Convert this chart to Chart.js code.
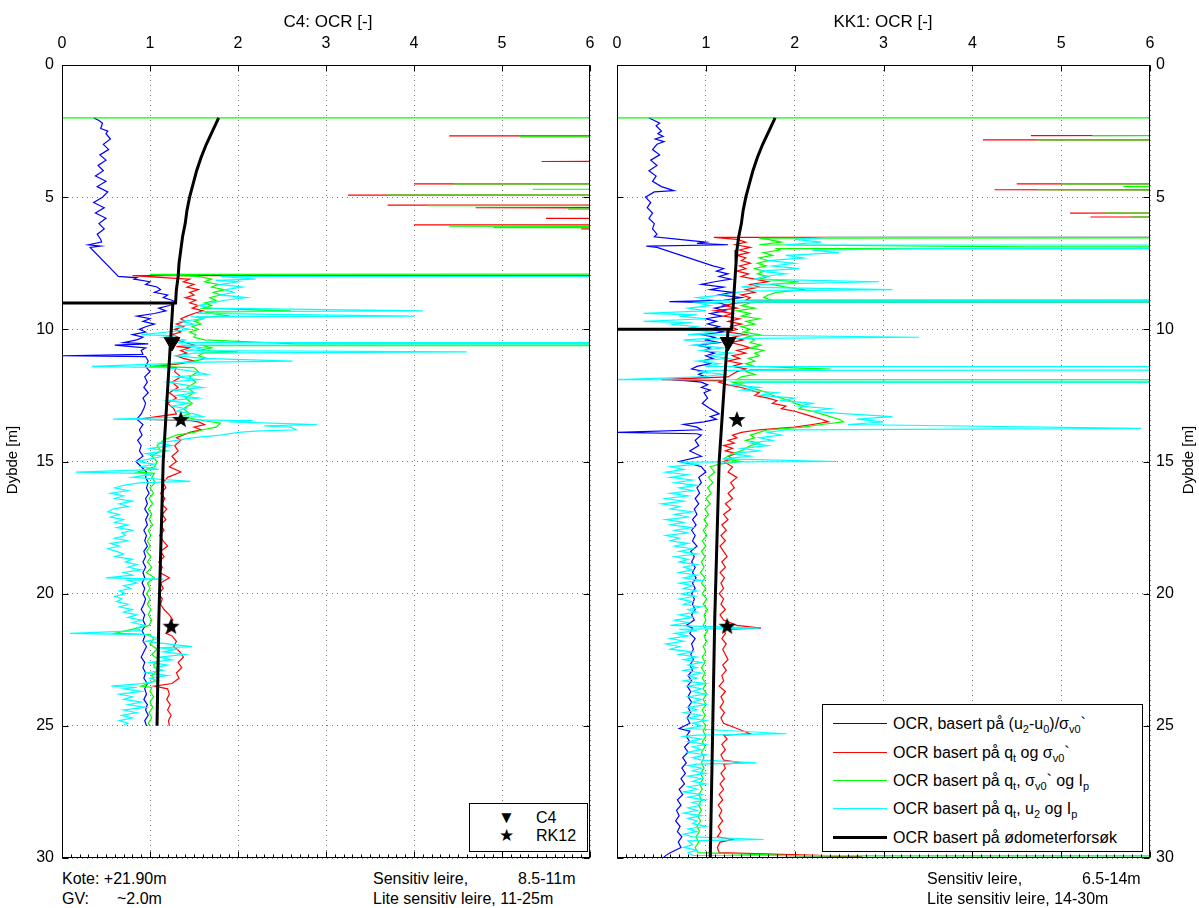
<!DOCTYPE html>
<html><head><meta charset="utf-8">
<script src="https://cdn.jsdelivr.net/npm/chart.js@4.4.0/dist/chart.umd.min.js"></script>
<style>
body{margin:0;background:#fff;width:1199px;height:908px;position:relative;overflow:hidden;font-family:"Liberation Sans",Arial,sans-serif;color:#000}
canvas{position:absolute;top:0}
.t{position:absolute;white-space:pre;font-size:16px;line-height:18px}
.title{position:absolute;font-size:17px;line-height:20px;width:240px;text-align:center;top:12px}
.ylab{position:absolute;font-size:15px;line-height:18px;width:100px;text-align:center;transform:rotate(-90deg)}
.leg{position:absolute;border:1px solid #000;background:#fff;font-size:16px}
.row{position:absolute;left:0;height:20px;line-height:20px;white-space:nowrap}
.sw{position:absolute;left:10px;width:54px;top:9px;height:0;border-top:1px solid}
.lt{position:absolute;left:70px;top:0}
sub{font-size:11px;vertical-align:-4px;line-height:0}
</style></head><body>
<canvas id="c1" width="600" height="870" style="left:0"></canvas>
<canvas id="c2" width="639" height="870" style="left:560px"></canvas>
<div class="title" style="left:208px">C4: OCR [-]</div>
<div class="title" style="left:763px">KK1: OCR [-]</div>
<div class="ylab" style="left:-38px;top:451px">Dybde [m]</div>
<div class="ylab" style="left:1138px;top:451px">Dybde [m]</div>
<div class="t" style="left:62px;top:870px">Kote: +21.90m</div>
<div class="t" style="left:62px;top:890px">GV:</div>
<div class="t" style="left:117px;top:890px">~2.0m</div>
<div class="t" style="left:373px;top:870px">Sensitiv leire,</div>
<div class="t" style="left:518px;top:870px">8.5-11m</div>
<div class="t" style="left:373px;top:890px">Lite sensitiv leire, 11-25m</div>
<div class="t" style="left:927px;top:870px">Sensitiv leire,</div>
<div class="t" style="left:1082px;top:870px">6.5-14m</div>
<div class="t" style="left:927px;top:890px">Lite sensitiv leire, 14-30m</div>
<div class="leg" style="left:469px;top:803px;width:117px;height:47px">
 <div class="row" style="top:4px;left:28px;font-size:17px">▼</div><div class="row" style="top:4px;left:66px">C4</div>
 <div class="row" style="top:22px;left:29px;font-size:17px">★</div><div class="row" style="top:22px;left:66px">RK12</div>
</div>
<div class="leg" style="left:822px;top:704px;width:319px;height:146px">
 <div class="row" style="top:9px;width:319px"><div class="sw" style="border-color:#0000ff"></div><div class="lt">OCR, basert på (u<sub>2</sub>-u<sub>0</sub>)/σ<sub>v0</sub>`</div></div>
 <div class="row" style="top:38px;width:319px"><div class="sw" style="border-color:#ff0000"></div><div class="lt">OCR basert på q<sub>t</sub> og σ<sub>v0</sub>`</div></div>
 <div class="row" style="top:66px;width:319px"><div class="sw" style="border-color:#00ff00"></div><div class="lt">OCR basert på q<sub>t</sub>, σ<sub>v0</sub>` og I<sub>p</sub></div></div>
 <div class="row" style="top:94px;width:319px"><div class="sw" style="border-color:#00ffff"></div><div class="lt">OCR basert på q<sub>t</sub>, u<sub>2</sub> og I<sub>p</sub></div></div>
 <div class="row" style="top:123px;width:319px"><div class="sw" style="border-color:#000;border-top-width:3px;top:8px"></div><div class="lt">OCR basert på ødometerforsøk</div></div>
</div>
<script>
// ---------- DATA: [depth (m), OCR (-)] ----------
const xTicks = [0,1,2,3,4,5,6];
const yTicks = [0,5,10,15,20,25,30];

const c4Blue = [[2.0,0.36],[2.1,0.42],[2.2,0.46],[2.4,0.44],[2.5,0.52],[2.6,0.5],[2.8,0.55],[3.0,0.47],[3.2,0.53],[3.4,0.43],[3.6,0.5],[3.8,0.41],[4.0,0.47],[4.2,0.38],[4.4,0.5],[4.6,0.4],[4.8,0.52],[5.0,0.46],[5.2,0.36],[5.4,0.48],[5.6,0.38],[5.8,0.5],[6.0,0.42],[6.2,0.48],[6.4,0.4],[6.6,0.44],[6.7,0.45],[6.8,0.3],[6.85,0.44],[6.9,0.32],[8.0,0.64],[8.05,0.85],[8.1,0.82],[8.2,1.0],[8.3,0.95],[8.4,1.08],[8.5,1.12],[8.6,1.05],[8.7,1.2],[8.8,1.15],[8.9,1.25],[9.0,1.3],[9.1,1.22],[9.2,1.1],[9.3,1.18],[9.4,1.05],[9.5,0.85],[9.6,1.0],[9.7,0.92],[9.8,1.05],[9.9,0.95],[10.0,0.88],[10.1,0.95],[10.2,0.8],[10.3,0.92],[10.4,0.85],[10.5,0.7],[10.55,0.98],[10.6,0.6],[10.7,0.95],[10.8,0.9],[10.95,0.92],[11.0,0.0],[11.03,0.95],[11.2,0.98],[11.4,0.95],[11.6,1.0],[11.8,0.94],[12.0,0.97],[12.2,0.93],[12.4,0.98],[12.6,0.92],[12.8,0.95],[13.0,0.93],[13.2,0.9],[13.4,0.85],[13.6,0.92],[13.8,0.88],[14.0,0.91],[14.2,0.86],[14.4,0.9],[14.6,0.88],[14.8,0.92],[15.0,0.84],[15.2,0.9],[15.4,0.96],[15.6,0.95],[15.8,0.98],[16.0,0.96],[16.2,0.99],[16.4,0.95],[16.6,0.97],[16.8,0.94],[17.0,0.98],[17.2,0.95],[17.4,0.97],[17.6,0.93],[17.8,0.96],[18.0,0.94],[18.2,0.97],[18.4,0.93],[18.6,0.95],[18.8,0.92],[19.0,0.95],[19.2,0.92],[19.4,0.94],[19.6,0.91],[19.8,0.94],[20.0,0.92],[20.2,0.95],[20.4,0.93],[20.6,0.9],[20.8,0.94],[21.0,0.92],[21.2,0.95],[21.4,0.91],[21.6,0.94],[21.8,0.92],[22.0,0.96],[22.2,0.93],[22.4,0.9],[22.6,0.94],[22.8,0.92],[23.0,0.95],[23.2,0.93],[23.4,0.97],[23.6,0.94],[23.8,0.96],[24.0,0.93],[24.2,0.97],[24.4,0.95],[24.6,0.98],[24.8,0.94],[25.0,0.96]];

const c4Red = [[2.0,40],[2.6,40],[2.68,4.4],[2.72,40],[3.6,40],[3.65,5.45],[3.7,40],[4.45,40],[4.5,4.0],[4.55,40],[4.85,40],[4.92,3.25],[4.97,40],[5.25,40],[5.3,3.7],[5.35,40],[5.4,4.7],[5.45,40],[5.75,40],[5.8,5.5],[5.85,40],[6.0,40],[6.05,4.0],[6.1,40],[6.18,40],[6.2,5.9],[6.25,40],[7.9,40],[7.97,0.8],[8.05,1.2],[8.1,1.45],[8.2,1.38],[8.3,1.5],[8.4,1.42],[8.5,1.55],[8.6,1.45],[8.7,1.5],[8.8,1.4],[8.9,1.52],[9.0,1.45],[9.1,1.55],[9.2,1.48],[9.3,1.6],[9.4,1.5],[9.5,1.42],[9.6,1.35],[9.7,1.4],[9.8,1.3],[9.9,1.38],[10.0,1.28],[10.1,1.35],[10.2,1.25],[10.3,1.32],[10.4,1.3],[10.5,1.4],[10.6,1.5],[10.65,1.3],[10.7,1.45],[10.8,1.35],[10.9,1.42],[11.0,1.3],[11.1,1.38],[11.2,1.5],[11.3,1.35],[11.4,1.05],[11.45,1.3],[11.6,1.28],[11.8,1.35],[12.0,1.25],[12.2,1.32],[12.4,1.22],[12.6,1.3],[12.8,1.2],[13.0,1.27],[13.2,1.3],[13.4,0.88],[13.45,1.45],[13.5,1.55],[13.6,1.62],[13.7,1.5],[13.8,1.58],[13.9,1.45],[14.0,1.38],[14.1,1.3],[14.2,1.35],[14.4,1.28],[14.6,1.32],[14.8,1.25],[15.0,1.3],[15.2,1.22],[15.4,1.35],[15.6,1.2],[15.8,1.15],[16.0,1.18],[16.2,1.12],[16.4,1.17],[16.6,1.13],[16.8,1.19],[17.0,1.14],[17.2,1.18],[17.4,1.12],[17.6,1.16],[17.8,1.11],[18.0,1.15],[18.2,1.2],[18.4,1.12],[18.6,1.16],[18.8,1.1],[19.0,1.14],[19.2,1.11],[19.4,1.22],[19.6,1.12],[19.8,1.15],[20.0,1.1],[20.2,1.14],[20.4,1.12],[20.6,1.16],[20.8,1.22],[21.0,1.26],[21.2,1.2],[21.4,1.24],[21.5,1.18],[21.6,1.25],[21.8,1.3],[22.0,1.27],[22.2,1.34],[22.4,1.38],[22.6,1.32],[22.8,1.36],[23.0,1.3],[23.2,1.33],[23.4,1.25],[23.5,1.05],[23.6,1.2],[23.8,1.22],[24.0,1.19],[24.2,1.23],[24.4,1.2],[24.6,1.24],[24.8,1.21],[25.0,1.22]];

const c4Green = [[2.0,0],[2.0,40],[2.7,40],[2.72,5.2],[2.76,40],[4.45,40],[4.5,4.45],[4.55,40],[4.7,5.35],[4.75,40],[4.88,40],[4.92,3.7],[4.97,40],[5.28,40],[5.32,4.15],[5.37,40],[5.45,5.75],[5.5,40],[6.05,40],[6.1,4.4],[6.13,40],[6.15,4.9],[6.2,40],[7.88,40],[7.92,1.0],[8.0,1.55],[8.1,1.7],[8.2,1.62],[8.3,1.78],[8.4,1.7],[8.5,1.85],[8.6,1.72],[8.7,1.8],[8.8,1.68],[8.9,1.75],[9.0,1.62],[9.1,1.7],[9.2,1.6],[9.3,2.6],[9.35,1.62],[9.5,1.9],[9.55,1.55],[9.6,1.6],[9.7,1.5],[9.8,1.58],[9.9,1.48],[10.0,1.55],[10.1,1.45],[10.2,1.52],[10.3,1.5],[10.4,1.62],[10.55,2.65],[10.58,40],[10.62,1.6],[10.7,1.7],[10.8,1.55],[10.85,2.0],[10.9,1.6],[11.0,1.55],[11.1,1.65],[11.2,1.5],[11.4,1.0],[11.45,1.5],[11.6,1.55],[11.8,1.45],[12.0,1.52],[12.2,1.42],[12.4,1.5],[12.6,1.4],[12.8,1.48],[13.0,1.38],[13.2,1.45],[13.3,1.35],[13.45,1.6],[13.55,1.8],[13.7,1.75],[13.8,1.6],[13.9,1.5],[14.0,1.3],[14.2,1.15],[14.4,1.08],[14.6,1.12],[14.8,1.02],[15.0,1.08],[15.2,1.05],[15.4,0.85],[15.45,1.05],[15.6,1.02],[15.8,1.06],[16.0,1.0],[16.2,1.04],[16.4,0.99],[16.6,1.03],[16.8,0.98],[17.0,1.02],[17.2,0.99],[17.4,1.03],[17.6,0.98],[17.8,1.01],[18.0,0.97],[18.2,1.0],[18.4,0.96],[18.6,1.01],[18.8,0.97],[19.0,1.02],[19.2,0.96],[19.4,1.05],[19.6,0.97],[19.8,1.0],[20.0,0.96],[20.2,1.0],[20.4,0.97],[20.6,1.01],[20.8,0.98],[21.0,1.02],[21.2,0.99],[21.5,0.6],[21.55,1.0],[21.7,1.04],[21.9,1.0],[22.1,1.08],[22.3,1.02],[22.5,1.1],[22.7,1.04],[22.9,1.08],[23.1,1.02],[23.3,1.05],[23.5,0.9],[23.55,1.02],[23.7,1.0],[23.9,1.04],[24.1,1.0],[24.3,1.03],[24.5,0.99],[24.7,1.02],[24.9,0.98],[25.0,1.0]];

const c4Cyan = [[7.95,40],[8.0,1.8],[8.1,2.2],[8.15,1.75],[8.2,2.0],[8.3,1.8],[8.4,2.05],[8.5,1.85],[8.6,1.95],[8.7,1.8],[8.8,2.1],[8.9,1.85],[9.0,1.7],[9.1,1.55],[9.2,1.7],[9.3,4.1],[9.33,1.6],[9.4,1.55],[9.5,4.0],[9.53,1.5],[9.6,1.6],[9.7,1.35],[9.8,1.5],[9.9,1.3],[10.0,1.45],[10.1,1.2],[10.2,0.9],[10.25,1.3],[10.3,1.15],[10.4,1.4],[10.5,1.3],[10.55,40],[10.6,1.35],[10.7,1.6],[10.8,1.4],[10.85,4.6],[10.9,1.5],[11.0,1.3],[11.1,1.6],[11.2,2.62],[11.25,1.4],[11.3,1.2],[11.4,0.34],[11.45,1.2],[11.6,1.5],[11.7,1.65],[11.8,1.3],[11.9,1.55],[12.0,1.2],[12.1,1.4],[12.2,1.6],[12.3,1.25],[12.4,1.5],[12.5,1.3],[12.6,1.55],[12.7,1.2],[12.8,1.45],[12.9,1.25],[13.0,1.4],[13.1,1.3],[13.2,1.5],[13.3,1.6],[13.4,0.58],[13.45,2.17],[13.5,1.9],[13.6,2.9],[13.65,2.3],[13.7,2.6],[13.8,2.66],[13.85,2.2],[13.9,2.0],[14.0,1.8],[14.1,1.5],[14.2,1.3],[14.3,1.1],[14.4,1.25],[14.5,1.0],[14.6,1.2],[14.7,0.95],[14.8,1.15],[14.9,1.0],[15.0,0.85],[15.1,1.05],[15.2,0.9],[15.3,1.1],[15.4,0.16],[15.45,0.9],[15.5,1.0],[15.6,0.8],[15.75,1.46],[15.8,0.9],[15.9,0.7],[16.0,0.6],[16.1,0.75],[16.2,0.55],[16.3,0.7],[16.4,0.6],[16.5,0.8],[16.6,0.65],[16.7,0.75],[16.8,0.58],[16.9,0.52],[17.0,0.65],[17.1,0.55],[17.2,0.7],[17.3,0.6],[17.4,0.75],[17.5,0.62],[17.6,0.8],[17.7,0.68],[17.8,0.72],[17.9,0.6],[18.0,0.75],[18.1,0.55],[18.2,0.65],[18.3,0.52],[18.4,0.62],[18.5,0.7],[18.6,0.6],[18.7,0.8],[18.8,0.72],[18.9,0.85],[19.0,0.75],[19.1,0.9],[19.2,0.7],[19.3,0.8],[19.4,0.5],[19.45,1.15],[19.5,0.75],[19.6,0.85],[19.7,0.7],[19.8,0.78],[19.9,0.65],[20.0,0.72],[20.1,0.6],[20.2,0.68],[20.3,0.62],[20.4,0.75],[20.5,0.65],[20.6,0.8],[20.7,0.7],[20.8,0.85],[20.9,0.75],[21.0,0.9],[21.1,0.8],[21.2,0.95],[21.3,0.85],[21.4,0.9],[21.5,0.09],[21.55,0.95],[21.6,1.0],[21.7,1.1],[21.8,0.95],[21.9,1.2],[22.0,1.48],[22.05,1.1],[22.1,1.3],[22.2,1.15],[22.3,1.4],[22.4,1.1],[22.5,1.25],[22.6,1.0],[22.7,1.2],[22.8,1.05],[22.9,1.15],[23.0,0.95],[23.1,1.2],[23.2,1.0],[23.3,1.1],[23.4,0.9],[23.5,0.56],[23.55,0.85],[23.6,0.7],[23.7,0.9],[23.8,0.65],[23.9,0.8],[24.0,0.7],[24.1,0.9],[24.2,0.75],[24.3,0.95],[24.4,0.7],[24.5,0.85],[24.6,0.68],[24.7,0.8],[24.8,0.65],[24.9,0.75],[25.0,0.7]];

const c4OedUpper = [[2.0,1.78],[2.5,1.71],[3.0,1.64],[3.5,1.58],[4.0,1.53],[4.5,1.49],[5.0,1.45],[5.5,1.42],[6.0,1.4],[6.5,1.37],[7.0,1.35],[7.5,1.33],[8.0,1.32],[8.5,1.3],[9.0,1.29],[9.0,0]];
const c4OedLower = [[9.0,1.26],[15.0,1.15],[21.0,1.1],[25.0,1.08]];
const c4Triangle = [[10.48,1.25]];
const c4Stars = [[13.43,1.35],[21.25,1.24]];

const kk1Blue = [[2.0,0.36],[2.1,0.42],[2.2,0.48],[2.3,0.44],[2.5,0.5],[2.6,0.46],[2.7,0.52],[2.8,0.43],[2.9,0.53],[3.0,0.45],[3.2,0.4],[3.4,0.48],[3.6,0.38],[3.8,0.45],[4.0,0.36],[4.2,0.44],[4.4,0.4],[4.6,0.5],[4.75,0.64],[4.8,0.42],[5.0,0.32],[5.2,0.38],[5.4,0.34],[5.6,0.4],[5.8,0.36],[6.0,0.42],[6.2,0.4],[6.4,0.45],[6.5,0.42],[6.6,0.7],[6.7,1.0],[6.75,0.9],[6.8,1.25],[6.85,0.33],[6.9,0.45],[7.6,1.08],[7.7,1.2],[7.8,1.12],[7.9,1.25],[8.0,1.15],[8.1,1.28],[8.2,1.1],[8.3,0.95],[8.4,1.2],[8.5,1.05],[8.6,1.3],[8.7,1.15],[8.8,1.4],[8.9,1.2],[8.95,0.59],[9.0,1.15],[9.1,1.25],[9.2,1.1],[9.3,1.22],[9.4,1.05],[9.5,1.18],[9.6,1.0],[9.7,1.12],[9.8,1.02],[9.9,1.15],[10.0,1.05],[10.1,1.2],[10.2,0.95],[10.3,1.1],[10.4,1.0],[10.5,1.15],[10.6,0.9],[10.7,1.05],[10.8,0.98],[10.9,1.1],[11.0,1.0],[11.1,1.08],[11.2,0.95],[11.3,1.05],[11.4,0.9],[11.5,0.84],[11.6,1.0],[11.7,0.92],[11.8,1.0],[11.9,0.62],[11.95,0.8],[12.0,0.95],[12.1,1.02],[12.2,0.95],[12.3,1.05],[12.4,0.98],[12.6,1.02],[12.8,0.96],[13.0,1.05],[13.2,1.15],[13.3,1.05],[13.4,1.12],[13.5,0.98],[13.6,0.75],[13.7,0.9],[13.8,0.95],[13.9,0.0],[13.95,0.9],[14.0,0.95],[14.2,0.88],[14.4,0.92],[14.6,0.82],[14.8,0.95],[15.0,0.7],[15.1,0.85],[15.2,0.95],[15.4,1.0],[15.6,0.92],[15.8,0.95],[16.0,0.9],[16.2,0.93],[16.4,0.88],[16.6,0.92],[16.8,0.87],[17.0,0.9],[17.2,0.85],[17.4,0.89],[17.6,0.84],[17.8,0.88],[18.0,0.85],[18.2,0.9],[18.4,0.83],[18.6,0.87],[18.8,0.84],[19.0,0.88],[19.2,0.85],[19.4,0.89],[19.6,0.85],[19.8,0.88],[20.0,0.84],[20.2,0.87],[20.4,0.85],[20.6,0.88],[20.8,0.84],[21.0,0.87],[21.2,0.78],[21.3,0.85],[21.5,0.82],[21.7,0.88],[21.9,0.84],[22.1,0.86],[22.3,0.83],[22.5,0.86],[22.7,0.82],[22.9,0.85],[23.1,0.8],[23.3,0.84],[23.5,0.79],[23.7,0.83],[23.9,0.8],[24.1,0.84],[24.3,0.8],[24.5,0.83],[24.7,0.79],[24.9,0.82],[25.1,0.7],[25.2,0.82],[25.4,0.78],[25.6,0.82],[25.8,0.76],[26.0,0.8],[26.2,0.74],[26.4,0.78],[26.6,0.73],[26.8,0.77],[27.0,0.72],[27.2,0.76],[27.4,0.7],[27.6,0.74],[27.8,0.68],[28.0,0.72],[28.2,0.67],[28.4,0.7],[28.6,0.66],[28.8,0.71],[29.0,0.68],[29.2,0.73],[29.4,0.69],[29.6,0.72],[29.8,0.6],[29.9,0.55],[30.0,0.52]];

const kk1Red = [[2.0,40],[2.6,40],[2.67,4.66],[2.72,40],[2.8,40],[2.83,4.12],[2.87,40],[4.45,40],[4.5,4.5],[4.55,40],[4.68,40],[4.72,4.25],[4.77,40],[5.55,40],[5.6,5.1],[5.65,40],[5.72,40],[5.75,5.33],[5.8,40],[6.5,40],[6.52,1.09],[6.6,1.35],[6.7,1.45],[6.8,1.33],[6.9,1.5],[7.0,1.38],[7.1,1.48],[7.2,1.35],[7.3,1.45],[7.4,1.4],[7.5,1.5],[7.6,1.38],[7.7,1.45],[7.8,1.35],[7.9,1.48],[8.0,1.4],[8.1,1.55],[8.2,1.7],[8.3,1.5],[8.4,1.6],[8.5,1.45],[8.6,1.55],[8.7,1.4],[8.8,1.5],[8.9,1.45],[8.93,40],[8.97,1.55],[9.0,1.35],[9.1,1.2],[9.2,1.35],[9.3,1.1],[9.4,1.3],[9.5,1.2],[9.6,1.38],[9.7,1.25],[9.8,1.4],[9.9,1.28],[10.0,1.35],[10.1,1.25],[10.2,1.45],[10.3,1.3],[10.4,1.42],[10.5,1.28],[10.6,1.4],[10.7,1.5],[10.8,1.35],[10.9,1.45],[11.0,1.3],[11.1,1.38],[11.2,1.25],[11.3,1.4],[11.4,1.3],[11.5,1.45],[11.6,1.35],[11.7,1.3],[11.8,1.25],[11.9,0.5],[11.95,1.2],[12.0,1.15],[12.1,1.25],[12.2,1.4],[12.3,1.5],[12.4,1.6],[12.5,1.55],[12.6,1.7],[12.7,1.8],[12.8,1.75],[12.9,1.9],[13.0,1.85],[13.1,2.0],[13.2,2.1],[13.3,2.2],[13.4,2.3],[13.5,2.38],[13.6,2.2],[13.7,2.0],[13.8,1.6],[13.9,1.4],[14.0,1.3],[14.1,1.35],[14.2,1.25],[14.3,1.32],[14.4,1.2],[14.5,1.3],[14.6,1.22],[14.7,1.35],[14.8,1.25],[14.9,1.3],[15.0,1.2],[15.2,1.3],[15.4,1.25],[15.6,1.35],[15.8,1.28],[16.0,1.32],[16.2,1.25],[16.4,1.3],[16.6,1.22],[16.8,1.28],[17.0,1.2],[17.2,1.25],[17.4,1.18],[17.6,1.23],[17.8,1.17],[18.0,1.22],[18.2,1.16],[18.4,1.2],[18.6,1.24],[18.8,1.18],[19.0,1.22],[19.2,1.16],[19.4,1.21],[19.6,1.17],[19.8,1.2],[20.0,1.15],[20.2,1.2],[20.4,1.17],[20.6,1.22],[20.8,1.16],[21.0,1.2],[21.2,1.35],[21.3,1.62],[21.35,1.2],[21.5,1.22],[21.7,1.18],[21.9,1.23],[22.1,1.19],[22.3,1.22],[22.5,1.25],[22.7,1.19],[22.9,1.23],[23.1,1.18],[23.3,1.2],[23.5,1.15],[23.7,1.22],[23.9,1.17],[24.1,1.2],[24.3,1.16],[24.5,1.21],[24.7,1.17],[24.9,1.2],[25.1,1.35],[25.3,1.5],[25.35,1.2],[25.5,1.24],[25.7,1.18],[25.9,1.22],[26.1,1.17],[26.3,1.2],[26.4,1.4],[26.45,1.2],[26.6,1.22],[26.8,1.17],[27.0,1.21],[27.2,1.16],[27.4,1.2],[27.6,1.15],[27.8,1.19],[28.0,1.14],[28.2,1.18],[28.4,1.15],[28.6,1.19],[28.8,1.14],[29.0,1.17],[29.2,1.13],[29.3,1.3],[29.4,1.16],[29.6,1.13],[29.8,1.15],[29.95,2.76],[30.0,1.2]];

const kk1Green = [[2.0,0],[2.0,40],[2.65,40],[2.67,5.35],[2.7,40],[2.8,40],[2.83,4.73],[2.87,40],[4.47,40],[4.5,5.0],[4.53,40],[4.58,40],[4.6,5.7],[4.63,40],[4.68,40],[4.72,4.73],[4.77,40],[5.55,40],[5.6,5.5],[5.65,40],[5.72,40],[5.75,5.8],[5.8,40],[6.5,40],[6.55,1.6],[6.6,1.7],[6.7,1.85],[6.8,1.6],[6.88,4.6],[6.9,40],[6.95,1.8],[7.0,1.83],[7.1,1.65],[7.2,1.75],[7.3,1.6],[7.4,1.7],[7.5,1.58],[7.6,1.68],[7.7,1.55],[7.8,1.65],[7.9,1.58],[8.0,1.7],[8.1,1.6],[8.2,2.05],[8.3,1.75],[8.4,1.9],[8.5,2.1],[8.6,1.8],[8.7,1.7],[8.8,1.65],[8.9,1.75],[8.93,40],[8.97,1.6],[9.0,1.5],[9.1,1.4],[9.2,1.55],[9.3,1.35],[9.4,1.5],[9.5,1.4],[9.6,1.6],[9.7,1.45],[9.8,1.55],[9.9,1.4],[10.0,1.5],[10.1,1.42],[10.2,1.6],[10.3,1.45],[10.4,1.55],[10.5,1.5],[10.6,1.62],[10.7,1.5],[10.8,1.65],[10.9,1.55],[11.0,1.6],[11.1,1.48],[11.2,1.55],[11.3,1.45],[11.4,1.55],[11.5,2.4],[11.52,1.5],[11.6,1.45],[11.7,1.55],[11.8,1.4],[11.9,1.35],[11.95,40],[12.0,1.3],[12.1,1.4],[12.2,1.5],[12.3,1.6],[12.4,1.7],[12.5,1.75],[12.6,1.85],[12.7,1.95],[12.8,2.0],[12.9,2.1],[13.0,2.05],[13.1,2.2],[13.2,2.3],[13.3,2.4],[13.4,2.5],[13.5,2.55],[13.6,2.3],[13.7,2.1],[13.8,1.7],[13.9,1.6],[14.0,1.5],[14.1,1.55],[14.2,1.45],[14.3,1.6],[14.4,1.5],[14.5,1.45],[14.6,1.4],[14.7,1.3],[14.8,1.25],[14.9,1.2],[15.0,1.4],[15.1,1.15],[15.2,1.05],[15.4,1.1],[15.6,1.03],[15.8,1.08],[16.0,1.02],[16.2,1.06],[16.4,1.0],[16.6,1.05],[16.8,0.99],[17.0,1.03],[17.2,0.98],[17.4,1.02],[17.6,0.97],[17.8,1.01],[18.0,0.96],[18.2,1.0],[18.4,0.95],[18.6,0.99],[18.8,0.95],[19.0,0.98],[19.2,0.94],[19.4,0.99],[19.6,0.95],[19.8,1.0],[20.0,0.96],[20.2,1.01],[20.4,0.97],[20.6,1.02],[20.8,0.98],[21.0,1.0],[21.2,0.97],[21.4,1.02],[21.6,0.98],[21.8,1.01],[22.0,0.97],[22.2,1.0],[22.4,0.96],[22.6,0.99],[22.8,0.95],[23.0,0.99],[23.2,0.96],[23.4,1.0],[23.6,0.97],[23.8,1.01],[24.0,0.97],[24.2,1.0],[24.4,0.96],[24.6,0.99],[24.8,0.96],[25.0,1.0],[25.2,0.97],[25.4,1.0],[25.6,0.96],[25.8,0.99],[26.0,0.95],[26.2,0.98],[26.4,0.95],[26.6,0.98],[26.8,0.94],[27.0,0.97],[27.2,0.93],[27.4,0.96],[27.6,0.92],[27.8,0.95],[28.0,0.92],[28.2,0.95],[28.4,0.91],[28.6,0.94],[28.8,0.9],[29.0,0.93],[29.2,0.89],[29.4,0.92],[29.6,0.88],[29.8,0.91],[29.92,2.06],[29.95,40],[30.0,40]];

const kk1Cyan = [[6.48,40],[6.52,2.4],[6.6,2.0],[6.7,2.3],[6.8,1.9],[6.9,40],[6.95,3.45],[7.0,2.2],[7.1,2.5],[7.2,1.9],[7.3,2.1],[7.4,1.7],[7.5,2.0],[7.6,1.75],[7.7,2.05],[7.8,1.6],[7.9,1.9],[8.0,1.65],[8.1,1.55],[8.2,2.95],[8.3,1.6],[8.4,1.4],[8.5,3.1],[8.55,1.5],[8.6,1.35],[8.7,1.2],[8.8,0.9],[8.9,1.1],[8.93,40],[8.97,1.2],[9.0,0.9],[9.1,1.05],[9.2,0.8],[9.3,1.0],[9.4,0.3],[9.45,0.9],[9.5,0.7],[9.6,1.0],[9.7,0.3],[9.75,0.85],[9.8,0.6],[9.9,0.9],[10.0,0.75],[10.1,1.1],[10.2,0.8],[10.3,3.4],[10.35,1.0],[10.4,0.75],[10.5,1.1],[10.6,0.85],[10.7,1.2],[10.8,0.95],[10.9,1.3],[11.0,1.05],[11.1,1.25],[11.2,0.9],[11.3,1.15],[11.4,1.0],[11.5,40],[11.55,1.1],[11.6,0.9],[11.7,1.2],[11.8,0.95],[11.9,0.0],[11.95,40],[12.0,1.5],[12.1,1.3],[12.2,1.6],[12.3,1.4],[12.4,1.8],[12.5,1.6],[12.6,2.0],[12.7,1.85],[12.8,2.2],[12.9,2.05],[13.0,2.4],[13.1,2.2],[13.2,2.6],[13.3,3.1],[13.4,2.7],[13.5,3.0],[13.6,2.6],[13.75,5.9],[13.8,1.9],[13.9,1.7],[14.0,1.85],[14.1,1.6],[14.2,1.75],[14.3,1.5],[14.4,1.7],[14.5,1.4],[14.6,1.6],[14.7,1.3],[14.8,1.5],[14.9,1.2],[15.0,2.47],[15.02,0.7],[15.1,0.9],[15.2,0.6],[15.3,0.75],[15.4,0.55],[15.5,0.8],[15.6,0.6],[15.7,0.85],[15.8,0.65],[15.9,0.9],[16.0,0.7],[16.1,0.85],[16.2,0.6],[16.3,0.8],[16.4,0.55],[16.5,0.75],[16.6,0.5],[16.7,0.7],[16.8,0.6],[16.9,0.85],[17.0,0.65],[17.1,0.8],[17.2,0.55],[17.3,0.75],[17.4,0.6],[17.5,0.85],[17.6,0.65],[17.7,0.8],[17.8,0.55],[17.9,0.7],[18.0,0.6],[18.1,0.8],[18.2,0.65],[18.3,0.85],[18.4,0.7],[18.5,0.9],[18.6,0.65],[18.7,0.8],[18.8,0.7],[18.9,0.9],[19.0,0.75],[19.1,0.85],[19.2,0.7],[19.3,0.9],[19.4,0.75],[19.5,0.95],[19.6,0.7],[19.7,0.85],[19.8,0.75],[19.9,0.9],[20.0,0.72],[20.1,0.88],[20.2,0.7],[20.3,0.85],[20.4,0.75],[20.5,0.95],[20.6,0.8],[20.7,0.9],[20.8,0.7],[20.9,0.85],[21.0,0.65],[21.1,0.8],[21.2,0.6],[21.3,1.6],[21.35,0.7],[21.4,0.9],[21.5,0.65],[21.6,0.8],[21.7,0.6],[21.8,0.75],[21.9,0.55],[22.0,0.7],[22.1,0.6],[22.2,0.85],[22.3,0.7],[22.4,0.9],[22.5,0.75],[22.6,0.95],[22.7,0.8],[22.8,0.9],[22.9,0.75],[23.0,0.95],[23.1,0.8],[23.2,0.9],[23.3,0.75],[23.4,1.0],[23.5,0.8],[23.6,0.95],[23.7,0.85],[23.8,1.0],[23.9,0.8],[24.0,0.95],[24.1,0.85],[24.2,1.0],[24.3,0.8],[24.4,0.9],[24.5,0.75],[24.6,0.95],[24.7,0.8],[24.8,1.0],[24.9,0.85],[25.0,0.95],[25.1,0.8],[25.3,1.91],[25.35,0.9],[25.4,0.75],[25.5,0.95],[25.6,0.8],[25.7,1.0],[25.8,0.85],[25.9,0.95],[26.0,0.8],[26.1,1.0],[26.2,0.85],[26.3,0.95],[26.4,1.57],[26.45,0.9],[26.5,0.8],[26.6,0.95],[26.7,0.85],[26.8,1.0],[26.9,0.8],[27.0,0.95],[27.1,0.85],[27.2,1.0],[27.3,0.8],[27.4,0.9],[27.5,0.75],[27.6,0.95],[27.7,0.8],[27.8,1.0],[27.9,0.85],[28.0,0.95],[28.1,0.8],[28.2,0.9],[28.3,0.75],[28.4,0.95],[28.5,0.8],[28.6,0.9],[28.7,0.85],[28.8,1.0],[28.9,0.8],[29.0,0.9],[29.1,0.75],[29.2,0.85],[29.3,1.65],[29.35,0.8],[29.5,0.85],[29.6,0.75],[29.7,0.9],[29.8,0.8],[29.9,0.85],[29.97,40],[30.0,40]];

const kk1OedUpper = [[2.0,1.78],[2.5,1.71],[3.0,1.64],[3.5,1.58],[4.0,1.53],[4.5,1.49],[5.0,1.45],[5.5,1.42],[6.0,1.4],[6.5,1.37],[7.0,1.35],[7.5,1.34],[8.0,1.33],[8.5,1.32],[9.0,1.31],[9.5,1.3],[10.0,1.29],[10.0,0]];
const kk1OedLower = [[10.0,1.25],[15.0,1.15],[21.0,1.1],[30.0,1.05]];
const kk1Triangle = [[10.48,1.25]];
const kk1Stars = [[13.43,1.35],[21.25,1.24]];

// ---------- RENDERING ----------
Chart.defaults.font.family = "'Liberation Sans', Arial, sans-serif";
Chart.defaults.color = '#000';
const xy = a => a.map(p => ({x:p[1], y:p[0]}));

function starImg(r){
  const s = Math.ceil(2*r+2), c = document.createElement('canvas');
  c.width = s; c.height = s;
  const g = c.getContext('2d'); g.fillStyle = '#000'; g.beginPath();
  for (let i=0;i<10;i++){ const a=-Math.PI/2+i*Math.PI/5, rr=i%2? r*0.42 : r; g.lineTo(s/2+rr*Math.cos(a), s/2+rr*Math.sin(a)); }
  g.closePath(); g.fill(); return c;
}
const star = starImg(9);

function line(data, color, w){ return {data: xy(data), showLine:true, borderColor:color, backgroundColor:color, borderWidth:w, pointRadius:0, tension:0, fill:false}; }

function datasets(blue, red, green, cyan, oedU, oedL, tri, stars){
  return [
    {data: xy(tri), showLine:false, pointStyle:'triangle', rotation:180, pointRadius:9, backgroundColor:'#000', borderColor:'#000', borderWidth:1},
    {data: xy(stars), showLine:false, pointStyle:star, pointRadius:9},
    line(oedU, '#000', 3), line(oedL, '#000', 3),
    line(cyan, '#00ffff', 1.2), line(green, '#00ff00', 1.2), line(red, '#ff0000', 1.2), line(blue, '#0000ff', 1.2)
  ];
}

const framePlugin = {
  id:'frame',
  afterDraw(chart){
    const {ctx, chartArea:a, scales:{x, y}} = chart;
    ctx.save(); ctx.strokeStyle = '#000'; ctx.lineWidth = 1;
    const L = Math.round(a.left)+0.5, R = Math.round(a.right)-0.5, T = Math.round(a.top)+0.5, B = Math.round(a.bottom)-0.5;
    ctx.strokeRect(L, T, R-L, B-T);
    ctx.beginPath();
    xTicks.forEach(v => { const px = Math.round(x.getPixelForValue(v))+0.5; ctx.moveTo(px,T); ctx.lineTo(px,T+6); ctx.moveTo(px,B); ctx.lineTo(px,B-6); });
    yTicks.forEach(v => { const py = Math.round(y.getPixelForValue(v))+0.5; ctx.moveTo(L,py); ctx.lineTo(L+6,py); ctx.moveTo(R,py); ctx.lineTo(R-6,py); });
    for (let k=1;k<60;k++){ if (k%10===0) continue; const px = Math.round(x.getPixelForValue(k/10))+0.5; ctx.moveTo(px,B); ctx.lineTo(px,B-3); }
    ctx.stroke(); ctx.restore();
  }
};

function makeChart(id, ds, yPos, pad, yW){
  return new Chart(document.getElementById(id), {
    type:'scatter',
    data:{datasets: ds},
    plugins:[framePlugin],
    options:{
      responsive:false, animation:false, events:[],
      layout:{padding:pad},
      plugins:{legend:{display:false}, tooltip:{enabled:false}},
      scales:{
        x:{type:'linear', position:'top', min:0, max:6,
           afterBuildTicks(s){ s.ticks = xTicks.map(v=>({value:v})); },
           afterFit(s){ s.height = 65; s.paddingLeft = 0; s.paddingRight = 0; },
           ticks:{font:{size:16}, color:'#000', padding:12, maxRotation:0},
           grid:{color:'#777', lineWidth:1, drawTicks:false}, border:{display:false, dash:[1,4]}},
        y:{type:'linear', position:yPos, min:0, max:30, reverse:true,
           afterBuildTicks(s){ s.ticks = yTicks.map(v=>({value:v})); },
           afterFit(s){ s.width = yW; s.paddingTop = 0; s.paddingBottom = 0; },
           ticks:{font:{size:16}, color:'#000', padding: yPos==='left'?8:6},
           grid:{color:'#777', lineWidth:1, drawTicks:false}, border:{display:false, dash:[1,4]}}
      }
    }
  });
}

makeChart('c1', datasets(c4Blue, c4Red, c4Green, c4Cyan, c4OedUpper, c4OedLower, c4Triangle, c4Stars), 'left', {left:0, right:5, top:0, bottom:12}, 62);
makeChart('c2', datasets(kk1Blue, kk1Red, kk1Green, kk1Cyan, kk1OedUpper, kk1OedLower, kk1Triangle, kk1Stars), 'right', {left:57, right:0, top:0, bottom:12}, 49);
</script>
</body></html>
